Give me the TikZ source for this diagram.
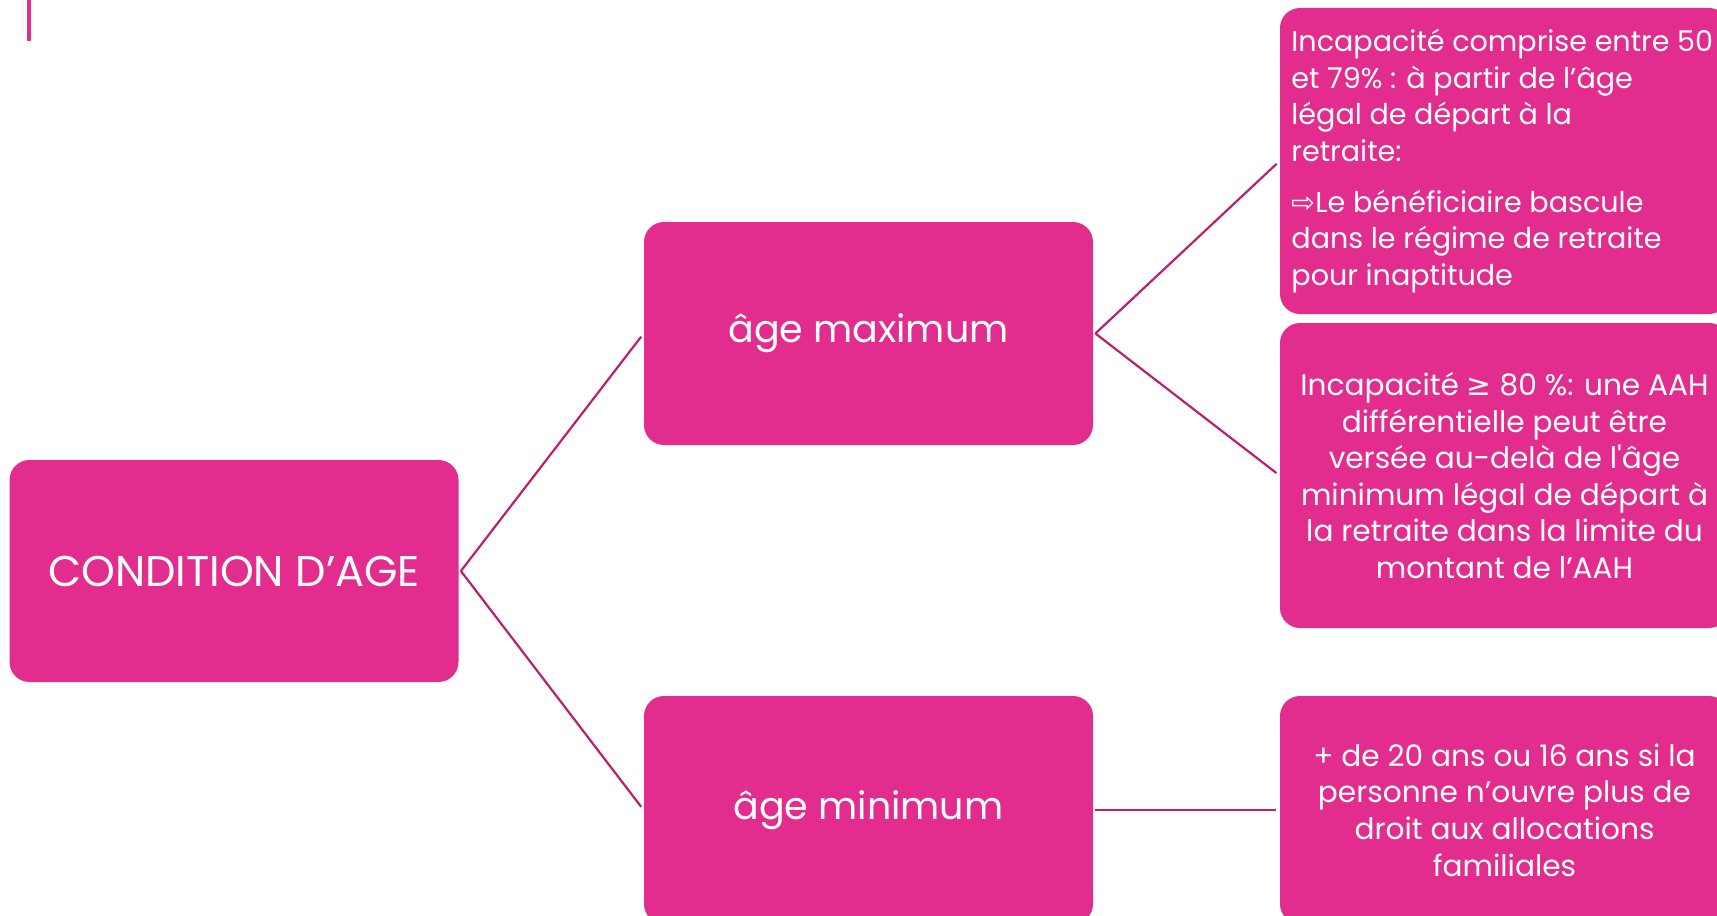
\documentclass[tikz,border=0pt]{standalone}
\usepackage{fontspec}
\setmainfont{Poppins}
\newfontfamily\symfont{DejaVu Sans}
\definecolor{boxpink}{RGB}{226,45,142}
\definecolor{linepink}{RGB}{186,32,112}
\tikzset{
  box/.style={fill=boxpink, draw=none, rounded corners=10pt, inner sep=0pt,
    minimum width=224.5pt, text=white},
  mainlabel/.style={font=\fontsize{19}{23}\selectfont, text=white},
  sidetext/.style={font=\fontsize{14.8}{18.3}\selectfont, text=white, inner sep=0pt},
  link/.style={draw=linepink, line width=1.1pt, shorten >=2pt}
}
\begin{document}
\begin{tikzpicture}[x=0.5pt,y=-0.5pt]
\useasboundingbox (0,0) rectangle (1717,915);
\clip (0,0) rectangle (1717,915);
\fill[boxpink] (27,0) rectangle (31,41);
% boxes
\node[box, minimum height=111pt] (cond) at (234,571) {};
\node[mainlabel, font=\fontsize{21.5}{25}\selectfont] (condt) at (cond.center) {CONDITION D’AGE};
\node[box, minimum height=111.5pt] (max) at (868.5,333.5) {};
\node[mainlabel] (maxt) at (max.center) {âge maximum};
\node[box, minimum height=114pt] (min) at (868.5,810) {};
\node[mainlabel] (mint) at (min.center) {âge minimum};
\node[box, minimum height=153pt] (r1) at (1504.5,161) {};
\node[box, minimum height=152.5pt] (r2) at (1504.5,475.5) {};
\node[box, minimum height=114pt] (r3) at (1504.5,810) {};
% texts
\node[sidetext, font=\fontsize{14.3}{18.3}\selectfont, anchor=west, align=left] (r1t) at (1291,161)
  {Incapacité comprise entre 50\\ et 79\% : à partir de l’âge\\ légal de départ à la\\ retraite:\\[7pt]{\symfont ⇨}Le bénéficiaire bascule\\ dans le régime de retraite\\ pour inaptitude};
\node[sidetext, align=center] (r2t) at (1504.5,475.5)
  {Incapacité {\symfont ≥} 80 \%: une AAH\\ différentielle peut être\\ versée au-delà de l\textquotesingle âge\\ minimum légal de départ à\\ la retraite dans la limite du\\ montant de l’AAH};
\node[sidetext, align=center] (r3t) at (1504.5,810)
  {+ de 20 ans ou 16 ans si la\\ personne n’ouvre plus de\\ droit aux allocations\\ familiales};
% connectors
\draw[link] ([xshift=1pt]cond.east) -- (max.west);
\draw[link] ([xshift=1pt]cond.east) -- (min.west);
\draw[link] ([xshift=1pt]max.east) -- (r1.west);
\draw[link] ([xshift=1pt]max.east) -- (r2.west);
\draw[link] ([xshift=1pt]min.east) -- (r3.west);
\end{tikzpicture}
\end{document}
